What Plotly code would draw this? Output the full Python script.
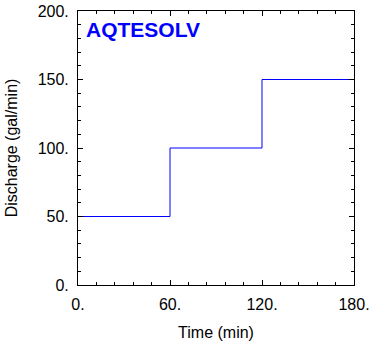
import plotly.graph_objects as go

time_min = [0, 60, 120, 180]
discharge = [50, 100, 150, 150]

x_ticks = [0, 60, 120, 180]
x_ticklabels = ["0.", "60.", "120.", "180."]
y_ticks = [0, 50, 100, 150, 200]
y_ticklabels = ["0.", "50.", "100.", "150.", "200."]

fig = go.Figure()
fig.add_trace(go.Scatter(x=time_min, y=discharge, mode="lines", line_shape="hv",
                         line=dict(color="#0000ff", width=1), showlegend=False))

font = dict(family="Liberation Sans, Arial", size=16, color="black")
axis_common = dict(showgrid=False, zeroline=False, showline=True, linecolor="black",
                   linewidth=1, mirror="ticks", ticks="inside", ticklen=5,
                   tickcolor="black", tickfont=font, automargin=False,
                   ticklabeloverflow="allow")
fig.update_xaxes(range=[0, 180], tickvals=x_ticks, ticktext=x_ticklabels,
                 minor=dict(dtick=12, ticks="inside", ticklen=3, tickcolor="black"),
                 ticklabelstandoff=5,
                 title=dict(text="Time (min)", font=font, standoff=16), **axis_common)
fig.update_yaxes(range=[0, 200], tickvals=y_ticks, ticktext=y_ticklabels,
                 minor=dict(dtick=10, ticks="inside", ticklen=3, tickcolor="black"),
                 ticklabelstandoff=5,
                 title=dict(text="Discharge (gal/min)", font=font, standoff=16), **axis_common)

fig.add_annotation(x=0, y=1, xref="paper", yref="paper", xanchor="left", yanchor="top",
                   xshift=6, yshift=-5, showarrow=False,
                   text="<b>AQTESOLV</b>",
                   font=dict(family="Liberation Sans, Arial", size=21, color="#0000ff"))

fig.update_layout(width=369, height=341, margin=dict(l=78, r=15, t=11, b=56),
                  plot_bgcolor="white", paper_bgcolor="white")
fig.write_html("out.html", config={"displayModeBar": False},
               post_script="document.body.style.margin='0';document.body.style.overflow='hidden';")
